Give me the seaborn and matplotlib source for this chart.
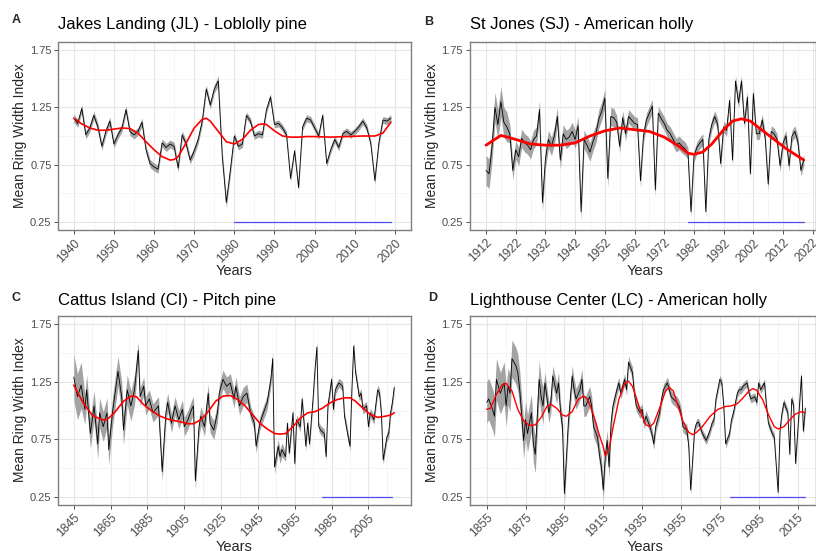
import numpy as np
import pandas as pd
import matplotlib
matplotlib.use("Agg")
import matplotlib.pyplot as plt
import seaborn as sns

# ---------------- data ----------------
# Panel A: Jakes Landing (JL) - Loblolly pine
a_years = list(range(1940, 2020))
a_vals = [1.155, 1.11, 1.24, 1.01, 1.07, 1.18, 1.08, 0.91, 1.04, 1.13,
          0.93, 1.01, 1.07, 1.23, 1.04, 1.01, 1.04, 1.12, 0.88, 0.76,
          0.73, 0.71, 0.94, 0.90, 0.93, 0.91, 0.72, 1.01, 0.93, 0.79,
          0.87, 0.97, 1.13, 1.41, 1.27, 1.41, 1.48, 0.82, 0.42, 0.70,
          1.00, 0.91, 0.93, 1.18, 1.13, 1.00, 1.02, 1.01, 1.23, 1.34,
          1.10, 1.11, 1.07, 1.01, 0.63, 0.87, 0.55, 1.08, 1.155, 1.14,
          1.07, 1.00, 1.18, 0.76, 0.88, 0.97, 0.90, 1.02, 1.04, 1.01,
          1.04, 1.08, 1.13, 1.07, 0.93, 0.61, 0.94, 1.14, 1.13, 1.155]
a_se_start = [1940, 1976, 1980]
a_se = [0.035, 0.045, 0.03]
a_smooth_years = [1940, 1942, 1944, 1946, 1948, 1950, 1952, 1954, 1956, 1958,
                  1960, 1962, 1964, 1965, 1966, 1968, 1970, 1972, 1973, 1974,
                  1976, 1978, 1980, 1982, 1984, 1986, 1987, 1988, 1990, 1992,
                  1994, 1996, 1998, 2000, 2004, 2008, 2012, 2015, 2017, 2019]
a_smooth = [1.155, 1.105, 1.07, 1.05, 1.05, 1.06, 1.07, 1.065, 1.025, 0.95,
            0.88, 0.82, 0.79, 0.795, 0.82, 0.94, 1.07, 1.145, 1.155, 1.13,
            1.04, 0.95, 0.93, 0.97, 1.05, 1.10, 1.105, 1.10, 1.045, 1.00,
            0.99, 0.99, 0.995, 0.995, 0.99, 0.995, 1.00, 1.00, 1.025, 1.12]
a_blue = [1980, 2019]

# Panel B: St Jones (SJ) - American holly
b_years = list(range(1912, 2020))
b_vals = [0.70, 0.67, 0.90, 1.25, 1.10, 1.30, 1.12, 1.08, 1.02, 0.70,
          0.88, 0.82, 0.98, 0.94, 0.92, 0.88, 0.97, 1.00, 1.23, 0.42,
          0.80, 0.97, 0.91, 1.00, 1.17, 0.79, 1.02, 0.97, 0.99, 1.04,
          0.97, 1.09, 0.34, 0.97, 0.92, 0.86, 0.95, 1.02, 1.15, 1.22,
          1.33, 0.63, 1.17, 1.16, 1.12, 0.91, 1.16, 1.02, 1.17, 1.14,
          1.11, 1.10, 0.61, 1.00, 1.14, 1.20, 1.26, 0.53, 1.20, 1.15,
          1.11, 1.05, 1.02, 0.97, 0.92, 0.94, 0.91, 0.89, 0.85, 0.34,
          0.82, 0.90, 0.94, 0.97, 0.34, 0.97, 1.10, 1.17, 1.10, 0.76,
          1.08, 1.05, 1.31, 0.79, 1.48, 1.29, 1.48, 1.11, 1.34, 0.67,
          1.37, 1.02, 1.02, 1.14, 0.98, 0.58, 1.04, 1.02, 0.97, 0.74,
          0.94, 1.00, 0.74, 1.00, 1.04, 0.95, 0.70, 0.79]
b_se_start = [1912, 1920, 1956, 1980]
b_se = [0.13, 0.08, 0.06, 0.05]
b_smooth_years = [1912, 1917, 1922, 1927, 1932, 1937, 1942, 1947, 1952, 1957,
                  1962, 1967, 1972, 1977, 1980, 1982, 1985, 1988, 1992, 1995,
                  1998, 2001, 2004, 2007, 2010, 2013, 2016, 2019]
b_smooth = [0.92, 1.005, 0.97, 0.93, 0.92, 0.92, 0.94, 1.00, 1.045, 1.07,
            1.055, 1.04, 0.99, 0.91, 0.85, 0.84, 0.86, 0.93, 1.055, 1.13,
            1.15, 1.13, 1.07, 1.01, 0.95, 0.89, 0.84, 0.79]
b_blue = [1980, 2019]

# Panel C: Cattus Island (CI) - Pitch pine
c_years = [1845, 1847, 1849, 1851, 1852, 1854, 1856, 1858, 1859, 1861,
           1863, 1864, 1866, 1869, 1871, 1872, 1874, 1876, 1878, 1880,
           1881, 1883, 1884, 1886, 1888, 1890, 1891, 1893, 1895, 1896,
           1898, 1900, 1902, 1904, 1905, 1907, 1909, 1910, 1911, 1913,
           1914, 1916, 1918, 1919, 1921, 1923, 1924, 1926, 1928, 1930,
           1932, 1933, 1935, 1937, 1939, 1941, 1943, 1944, 1946, 1948,
           1950, 1952, 1953, 1954, 1956, 1957, 1958, 1960, 1961, 1962,
           1964, 1965, 1966, 1968, 1969, 1971, 1972, 1973, 1975, 1976,
           1977, 1978, 1979, 1981, 1982, 1983, 1985, 1986, 1987, 1989,
           1991, 1992, 1994, 1995, 1996, 1997, 1998, 2000, 2001, 2002,
           2004, 2005, 2006, 2008, 2010, 2011, 2012, 2013, 2015, 2016,
           2017, 2018, 2019]
c_vals = [1.29, 1.12, 1.22, 1.01, 1.18, 0.80, 1.04, 0.71, 0.98, 0.86,
          0.98, 0.66, 0.98, 1.34, 1.12, 0.83, 1.18, 1.04, 1.18, 1.52,
          1.12, 1.21, 1.04, 1.10, 0.98, 1.02, 1.04, 0.47, 0.98, 1.07,
          0.89, 1.04, 0.92, 1.01, 0.86, 0.92, 1.01, 1.04, 0.39, 0.86,
          0.95, 0.86, 1.15, 0.89, 0.83, 0.98, 1.15, 1.27, 1.21, 1.24,
          1.10, 1.21, 1.04, 1.12, 1.15, 0.98, 0.89, 0.69, 0.89, 0.98,
          1.07, 1.27, 1.45, 0.51, 0.69, 0.60, 0.66, 0.60, 0.89, 0.63,
          0.98, 0.54, 0.92, 0.86, 1.10, 0.69, 0.89, 0.71, 1.12, 1.36,
          1.55, 0.86, 0.83, 0.80, 0.60, 1.04, 1.27, 1.01, 1.18, 1.24,
          1.21, 0.95, 0.77, 0.69, 1.18, 1.56, 1.33, 1.12, 1.15, 1.01,
          1.04, 0.86, 0.98, 0.92, 1.18, 1.15, 0.98, 0.57, 0.77, 0.80,
          0.98, 1.07, 1.20]
c_se_start = [1845, 1851, 1880, 1940, 1960]
c_se = [0.20, 0.13, 0.08, 0.06, 0.04]
c_smooth_years = [1845, 1850, 1855, 1860, 1863, 1867, 1872, 1876, 1879, 1883,
                  1887, 1892, 1897, 1902, 1907, 1910, 1914, 1918, 1922, 1926,
                  1930, 1934, 1938, 1942, 1946, 1950, 1954, 1957, 1960, 1964,
                  1968, 1972, 1976, 1980, 1984, 1988, 1992, 1995, 1998, 2002,
                  2006, 2010, 2014, 2017, 2019]
c_smooth = [1.22, 1.07, 0.96, 0.92, 0.92, 0.98, 1.08, 1.125, 1.12, 1.05,
            1.00, 0.95, 0.92, 0.905, 0.885, 0.885, 0.92, 0.99, 1.08, 1.125,
            1.13, 1.095, 1.04, 0.965, 0.89, 0.84, 0.80, 0.795, 0.80, 0.86,
            0.935, 0.98, 0.99, 1.02, 1.065, 1.095, 1.11, 1.11, 1.08, 1.02,
            0.965, 0.94, 0.95, 0.96, 0.98]
c_blue = [1980, 2018]

# Panel D: Lighthouse Center (LC) - American holly
d_years = [1855, 1856, 1858, 1859, 1860, 1862, 1864, 1865, 1866, 1867,
           1868, 1870, 1871, 1872, 1874, 1875, 1876, 1878, 1879, 1880,
           1882, 1883, 1884, 1885, 1887, 1888, 1889, 1891, 1892, 1893,
           1894, 1895, 1897, 1899, 1900, 1901, 1903, 1904, 1905, 1906,
           1908, 1909, 1910, 1912, 1913, 1914, 1915, 1916, 1917, 1918,
           1919, 1920, 1922, 1923, 1924, 1926, 1927, 1928, 1930, 1931,
           1932, 1934, 1935, 1936, 1937, 1939, 1940, 1941, 1942, 1944,
           1945, 1946, 1948, 1949, 1950, 1951, 1953, 1954, 1955, 1956,
           1958, 1959, 1960, 1962, 1963, 1964, 1966, 1967, 1968, 1970,
           1971, 1972, 1973, 1975, 1976, 1977, 1978, 1980, 1981, 1982,
           1984, 1985, 1986, 1987, 1989, 1990, 1991, 1993, 1994, 1995,
           1996, 1998, 1999, 2000, 2002, 2003, 2005, 2006, 2007, 2008,
           2010, 2011, 2012, 2013, 2014, 2016, 2017, 2018, 2019]
d_vals = [1.07, 1.10, 1.01, 0.95, 1.27, 1.15, 1.24, 1.04, 1.21, 1.15,
          1.45, 1.39, 1.33, 1.18, 0.74, 0.92, 0.80, 0.98, 0.71, 0.62,
          1.27, 1.12, 1.04, 1.24, 0.98, 1.07, 1.30, 1.15, 1.24, 0.98,
          0.86, 0.28, 0.89, 1.30, 1.18, 1.10, 1.18, 1.27, 1.04, 1.04,
          1.12, 1.04, 0.86, 0.77, 0.62, 0.51, 0.31, 0.60, 0.74, 0.51,
          0.89, 1.04, 1.18, 1.24, 1.15, 1.27, 1.18, 1.42, 1.33, 1.15,
          1.04, 0.98, 1.01, 0.89, 0.95, 0.86, 0.80, 0.71, 0.86, 0.98,
          1.10, 1.18, 1.24, 1.18, 1.12, 1.10, 1.07, 1.04, 0.98, 0.86,
          0.83, 0.69, 0.31, 0.83, 0.89, 0.90, 0.80, 0.77, 0.74, 0.83,
          0.89, 0.92, 1.10, 1.27, 1.24, 1.04, 0.71, 0.80, 0.92, 0.98,
          1.15, 1.18, 1.18, 1.21, 1.24, 1.15, 1.10, 1.12, 1.07, 1.24,
          1.18, 1.24, 1.04, 0.89, 0.80, 0.77, 0.29, 0.83, 0.98, 1.07,
          0.98, 0.62, 1.10, 1.04, 0.54, 1.04, 1.30, 0.82, 1.02]
d_se_start = [1855, 1866, 1885, 1920, 1960]
d_se = [0.18, 0.16, 0.09, 0.05, 0.035]
d_smooth_years = [1855, 1857, 1860, 1863, 1865, 1868, 1871, 1874, 1877, 1880,
                  1883, 1886, 1888, 1891, 1894, 1896, 1899, 1902, 1905, 1907,
                  1910, 1913, 1915, 1916, 1918, 1920, 1923, 1926, 1928, 1930,
                  1932, 1935, 1937, 1939, 1941, 1944, 1947, 1949, 1951, 1953,
                  1956, 1959, 1961, 1963, 1966, 1970, 1974, 1978, 1981, 1984,
                  1987, 1990, 1992, 1994, 1997, 2000, 2003, 2005, 2008, 2011,
                  2014, 2017, 2019]
d_smooth = [1.01, 1.02, 1.14, 1.225, 1.235, 1.17, 1.01, 0.91, 0.87, 0.875,
            0.94, 1.035, 1.055, 1.02, 0.96, 0.95, 0.99, 1.095, 1.125, 1.095,
            0.96, 0.785, 0.685, 0.605, 0.67, 0.85, 1.095, 1.235, 1.255, 1.21,
            1.11, 0.95, 0.875, 0.86, 0.89, 1.02, 1.17, 1.20, 1.17, 1.065,
            0.905, 0.81, 0.79, 0.81, 0.86, 0.95, 1.01, 1.035, 1.04, 1.06,
            1.11, 1.17, 1.19, 1.175, 1.095, 0.965, 0.86, 0.84, 0.86, 0.92,
            0.97, 0.99, 0.98]
d_blue = [1980, 2019]

y_ticks = [0.25, 0.75, 1.25, 1.75]
y_minor = [0.5, 1.0, 1.5]

# ---------------- styling ----------------
sns.set_theme(style="whitegrid")
plt.rcParams['font.family'] = ['Liberation Sans', 'DejaVu Sans']

W, H = 816, 551
fig = plt.figure(figsize=(W / 100, H / 100), dpi=100)


def px_axes(left, top, right, bottom):
    return fig.add_axes([left / W, 1 - bottom / H, (right - left) / W, (bottom - top) / H])


def panel(box, years, vals, se_start, se_vals, sm_years, sm_vals, blue, xticks, xminor,
          xlim, title, letter, red_lw, letter_xy, title_xy, ylab_xy, xlab_xy):
    ax = px_axes(*box)
    df = pd.DataFrame({"Years": years, "RWI": vals})
    idx = np.searchsorted(np.array(se_start), df["Years"].values, side="right") - 1
    se = np.array(se_vals)[idx]
    ax.fill_between(df["Years"], df["RWI"] - se, df["RWI"] + se,
                    color="#a3a3a3", lw=0, zorder=2)
    sns.lineplot(data=df, x="Years", y="RWI", ax=ax, color="black", lw=0.6,
                 zorder=3, estimator=None)
    sm = pd.DataFrame({"Years": sm_years, "RWI": sm_vals})
    sns.lineplot(data=sm, x="Years", y="RWI", ax=ax, color="red", lw=red_lw,
                 zorder=4, estimator=None)
    bl = pd.DataFrame({"Years": blue, "RWI": [0.25, 0.25]})
    sns.lineplot(data=bl, x="Years", y="RWI", ax=ax, color="#4d4df0", lw=0.9,
                 zorder=5, estimator=None)

    ax.set_xlim(*xlim)
    ax.set_ylim(0.18, 1.82)
    ax.set_xticks(xticks)
    ax.set_xticks(xminor, minor=True)
    ax.set_yticks(y_ticks)
    ax.set_yticks(y_minor, minor=True)
    ax.set_yticklabels([f"{v:.2f}" for v in y_ticks])
    ax.set_xticklabels([str(t) for t in xticks], rotation=45, ha="right",
                       rotation_mode="anchor")
    ax.grid(which="major", color="#e6e6e6", lw=0.8)
    ax.grid(which="minor", color="#f2f2f2", lw=0.5)
    ax.tick_params(axis="both", which="major", labelsize=8, labelcolor="#4d4d4d",
                   length=3, width=0.6, color="#333333", pad=2, bottom=True, left=True)
    ax.tick_params(axis="x", which="major", labelsize=8.8)
    ax.tick_params(axis="both", which="minor", length=0)
    for s in ax.spines.values():
        s.set_color("#7f7f7f")
        s.set_linewidth(1.0)
    ax.set_xlabel("")
    ax.set_ylabel("")
    fig.text(letter_xy[0] / W, 1 - letter_xy[1] / H, letter, fontsize=9,
             fontweight="bold", ha="left", va="center")
    fig.text(title_xy[0] / W, 1 - title_xy[1] / H, title, fontsize=12,
             ha="left", va="center", color="black")
    fig.text(ylab_xy[0] / W, 1 - ylab_xy[1] / H, "Mean Ring Width Index",
             fontsize=10, rotation=90, ha="center", va="center")
    fig.text(xlab_xy[0] / W, 1 - xlab_xy[1] / H, "Years", fontsize=10.5,
             ha="center", va="center")
    return ax


panel((58.5, 42, 411, 230), a_years, a_vals, a_se_start, a_se, a_smooth_years, a_smooth,
      a_blue, list(range(1940, 2021, 10)), list(range(1945, 2021, 10)), (1936.2, 2024.0),
      "Jakes Landing (JL) - Loblolly pine", "A", 1.2,
      (12, 20), (58, 25), (20, 136), (234, 271))
panel((470, 42, 816, 230), b_years, b_vals, b_se_start, b_se, b_smooth_years, b_smooth,
      b_blue, list(range(1912, 2023, 10)), list(range(1917, 2023, 10)), (1906.6, 2023.1),
      "St Jones (SJ) - American holly", "B", 2.0,
      (424, 22), (470, 25), (432, 136), (645, 271))
panel((58.5, 316, 411, 505), c_years, c_vals, c_se_start, c_se, c_smooth_years, c_smooth,
      c_blue, list(range(1845, 2020, 20)), list(range(1855, 2020, 20)), (1836.7, 2028.1),
      "Cattus Island (CI) - Pitch pine", "C", 1.2,
      (12, 298), (58, 301), (20, 410), (234, 547))
panel((470, 316, 816, 505), d_years, d_vals, d_se_start, d_se, d_smooth_years, d_smooth,
      d_blue, list(range(1855, 2020, 20)), list(range(1865, 2020, 20)), (1846.4, 2024.5),
      "Lighthouse Center (LC) - American holly", "D", 1.0,
      (428, 298), (470, 300), (432, 410), (645, 547))

fig.savefig("out.png", dpi=100)
